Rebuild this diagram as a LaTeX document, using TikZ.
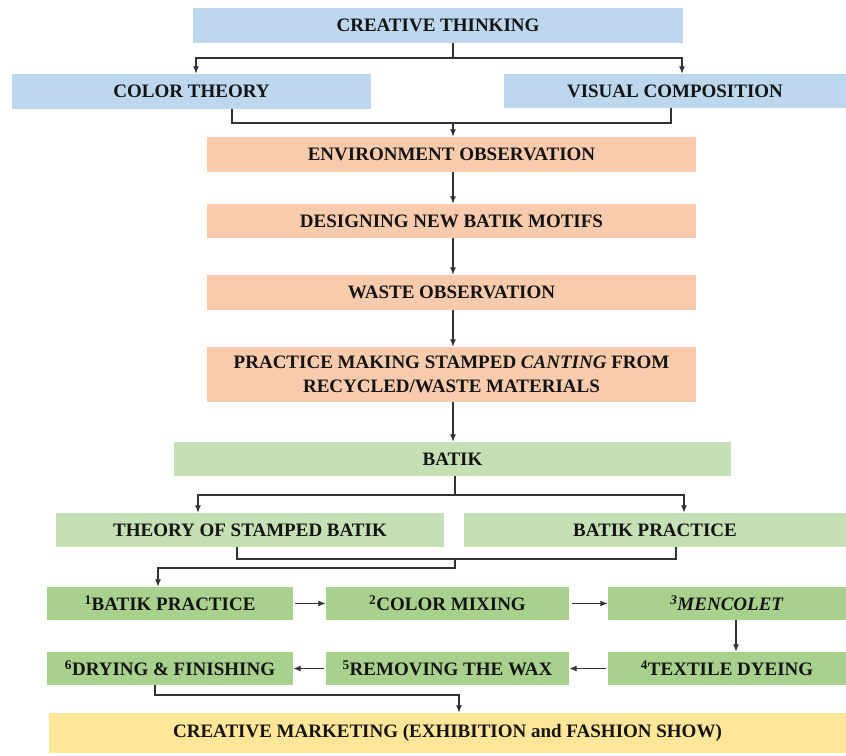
\documentclass[tikz,border=0pt]{standalone}
\usepackage{fontspec}
\setmainfont{Liberation Serif}
\usetikzlibrary{arrows.meta}
\definecolor{cblue}{RGB}{189,215,238}
\definecolor{corange}{RGB}{248,203,173}
\definecolor{cgreenl}{RGB}{197,224,180}
\definecolor{cgreen}{RGB}{169,209,142}
\definecolor{cyellow}{RGB}{255,230,153}
\definecolor{cline}{RGB}{50,50,50}
\definecolor{ctext}{RGB}{20,20,20}
\begin{document}
\begin{tikzpicture}[x=1pt,y=-1pt,
  box/.style={rectangle, inner sep=0pt, font=\fontsize{19}{24}\selectfont\bfseries, text=ctext, align=center},
  bluebox/.style={box, fill=cblue},
  orangebox/.style={box, fill=corange, minimum width=489pt},
  lgreenbox/.style={box, fill=cgreenl},
  stepbox/.style={box, fill=cgreen, minimum height=33pt},
  yellowbox/.style={box, fill=cyellow},
  conn/.style={draw=cline, line width=1.3pt},
  arr/.style={conn, -{Latex[length=7.5pt,width=6pt]}}]
\fill[white] (0,0) rectangle (846,755);
\useasboundingbox (0,0) rectangle (846,755);

% nodes
\node[bluebox, minimum width=490pt, minimum height=35pt] (ct) at (438,25.5) {CREATIVE THINKING};
\node[bluebox, minimum width=359pt, minimum height=35pt] (col) at (191.5,91.5) {COLOR THEORY};
\node[bluebox, minimum width=342pt, minimum height=34pt] (vis) at (675,91) {VISUAL COMPOSITION};

\node[orangebox, minimum height=35pt] (env) at (451.5,154.5) {ENVIRONMENT OBSERVATION};
\node[orangebox, minimum height=34pt] (des) at (451.5,221) {DESIGNING NEW BATIK MOTIFS};
\node[orangebox, minimum height=35pt] (waste) at (451.5,292.5) {WASTE OBSERVATION};
\node[orangebox, minimum height=55pt] (prac) at (451.5,374.5) {PRACTICE MAKING STAMPED \textit{CANTING} FROM\\RECYCLED/WASTE MATERIALS};

\node[lgreenbox, minimum width=557pt, minimum height=34pt] (batik) at (452.5,459) {BATIK};
\node[lgreenbox, minimum width=388pt, minimum height=34pt] (theory) at (250,530) {THEORY OF STAMPED BATIK};
\node[lgreenbox, minimum width=382pt, minimum height=34pt] (bp) at (655,530) {BATIK PRACTICE};

\node[stepbox, minimum width=246pt] (s1) at (170,603.5) {\textsuperscript{1}BATIK PRACTICE};
\node[stepbox, minimum width=243pt] (s2) at (447.5,603.5) {\textsuperscript{2}COLOR MIXING};
\node[stepbox, minimum width=238pt] (s3) at (727,603.5) {\textit{\textsuperscript{3}MENCOLET}};
\node[stepbox, minimum width=238pt] (s4) at (727,668.5) {\textsuperscript{4}TEXTILE DYEING};
\node[stepbox, minimum width=243pt] (s5) at (447.5,668.5) {\textsuperscript{5}REMOVING THE WAX};
\node[stepbox, minimum width=246pt] (s6) at (170,668.5) {\textsuperscript{6}DRYING \& FINISHING};

\node[yellowbox, minimum width=797pt, minimum height=40pt] (mk) at (447.5,733) {CREATIVE MARKETING (EXHIBITION and FASHION SHOW)};

% connectors
\coordinate (j1) at (453,58);
\draw[conn] (ct.south -| j1) -- (j1);
\draw[arr] (j1) -| ([xshift=4.5pt]col.north);
\draw[arr] (j1) -| ([xshift=7pt]vis.north);

\coordinate (j2) at (453,123);
\draw[conn] ([xshift=40.5pt]col.south) |- ([xshift=-4pt]vis.south |- j2) -- ([xshift=-4pt]vis.south);
\draw[arr] (j2) -- (env.north -| j2);
\draw[arr] (env.south -| j2) -- (des.north -| j2);
\draw[arr] (des.south -| j2) -- (waste.north -| j2);
\draw[arr] (waste.south -| j2) -- (prac.north -| j2);
\draw[arr] (prac.south -| j2) -- (batik.north -| j2);

\coordinate (j3) at (455,495);
\draw[conn] (batik.south -| j3) -- (j3);
\draw[arr] (j3) -| ([xshift=-52pt]theory.north);
\draw[arr] (j3) -| ([xshift=29pt]bp.north);

\coordinate (j4) at (455,559);
\coordinate (j5) at (455,568);
\draw[conn] ([xshift=-13pt]theory.south) |- ([xshift=21pt]bp.south |- j4) -- ([xshift=21pt]bp.south);
\draw[arr] (j4) -- (j5) -| ([xshift=-12pt]s1.north);

\draw[arr] ([xshift=2pt]s1.east) -- (s2.west);
\draw[arr] ([xshift=3pt]s2.east) -- (s3.west);
\draw[arr] ([xshift=9pt]s3.south) -- ([xshift=9pt]s4.north);
\draw[arr] ([xshift=-2pt]s4.west) -- (s5.east);
\draw[arr] ([xshift=-2pt]s5.west) -- (s6.east);

\coordinate (j6) at (459,695);
\draw[arr] ([xshift=-15pt]s6.south) |- (j6) -- (mk.north -| j6);
\end{tikzpicture}
\end{document}
